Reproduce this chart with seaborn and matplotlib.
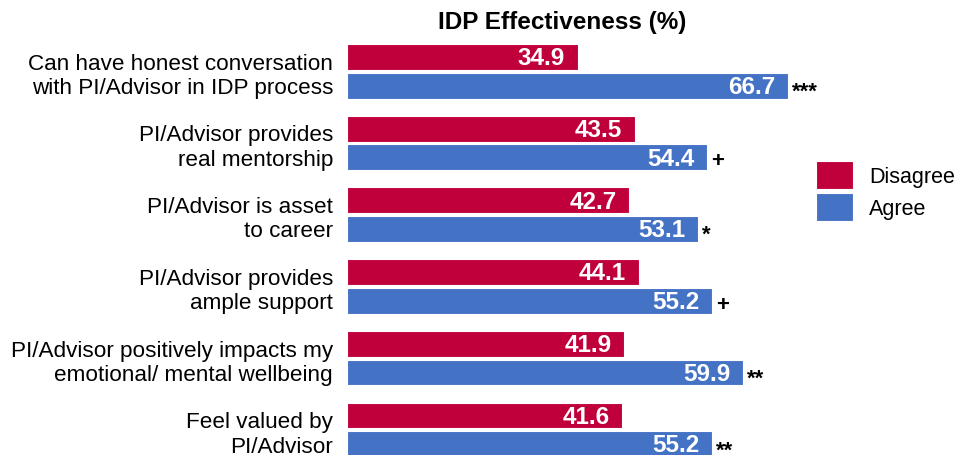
import pandas as pd
import seaborn as sns
import matplotlib.pyplot as plt

# Chart data
categories = [
    "Can have honest conversation\nwith PI/Advisor in IDP process",
    "PI/Advisor provides\nreal mentorship",
    "PI/Advisor is asset\nto career",
    "PI/Advisor provides\nample support",
    "PI/Advisor positively impacts my\nemotional/ mental wellbeing",
    "Feel valued by\nPI/Advisor",
]
disagree = [34.9, 43.5, 42.7, 44.1, 41.9, 41.6]
agree = [66.7, 54.4, 53.1, 55.2, 59.9, 55.2]
significance = ["***", "+", "*", "+", "**", "**"]
groups = ["Disagree", "Agree"]
colors = ["#C0003A", "#4472C4"]


def run():
    df = pd.DataFrame({
        "category": categories * 2,
        "value": disagree + agree,
        "group": [groups[0]] * len(categories) + [groups[1]] * len(categories),
    })

    sns.set_theme(style="white")
    plt.rcParams["font.family"] = ["Liberation Sans", "DejaVu Sans"]
    plt.rcParams["text.color"] = "black"

    fig = plt.figure(figsize=(9.61, 4.56), dpi=100)
    ax = fig.add_axes([347 / 961, 0, 1 - 347 / 961, 1 - 40 / 456])

    sns.barplot(data=df, x="value", y="category", hue="group", orient="h",
                palette=colors, saturation=1, gap=0.1, width=0.8,
                edgecolor="white", linewidth=0.8, ax=ax)

    ax.set_xlim(0, (961 - 347) / 6.61)
    ax.set_ylim(5.35, -0.45)
    ax.set_xlabel("")
    ax.set_ylabel("")
    ax.set_xticks([])
    sns.despine(ax=ax, left=True, bottom=True)
    ax.tick_params(axis="y", length=0, pad=10, labelsize=16.2)
    for lab in ax.get_yticklabels():
        lab.set_linespacing(1.2)
        lab.set_color("black")

    # value labels inside bars
    for container, vals in zip(ax.containers, [disagree, agree]):
        for bar, v in zip(container, vals):
            yc = bar.get_y() + bar.get_height() / 2
            ax.annotate(f"{v:.1f}", (bar.get_width(), yc), xytext=(-9, -0.5),
                        textcoords="offset points", ha="right", va="center",
                        color="white", fontsize=17.5, fontweight="bold")
    # significance marks after agree bars
    for bar, s in zip(ax.containers[1], significance):
        yc = bar.get_y() + bar.get_height() / 2
        dy = -4 if "*" in s else -2.5
        ax.annotate(s, (bar.get_width(), yc), xytext=(3, dy),
                    textcoords="offset points", ha="left", va="center",
                    color="black", fontsize=16, fontweight="bold")

    ax.legend(loc="center left", bbox_to_anchor=(797 / 961, 1 - 192 / 456),
              bbox_transform=fig.transFigure, frameon=False, fontsize=15.5,
              handlelength=1.7, handleheight=1.6, labelspacing=0.2,
              handletextpad=0.75)

    fig.text(562 / 961, 1 - 22 / 456, "IDP Effectiveness (%)", ha="center",
             va="center", fontsize=17.5, fontweight="bold")

    fig.savefig("out.png", dpi=100)


if __name__ == "__main__":
    run()
